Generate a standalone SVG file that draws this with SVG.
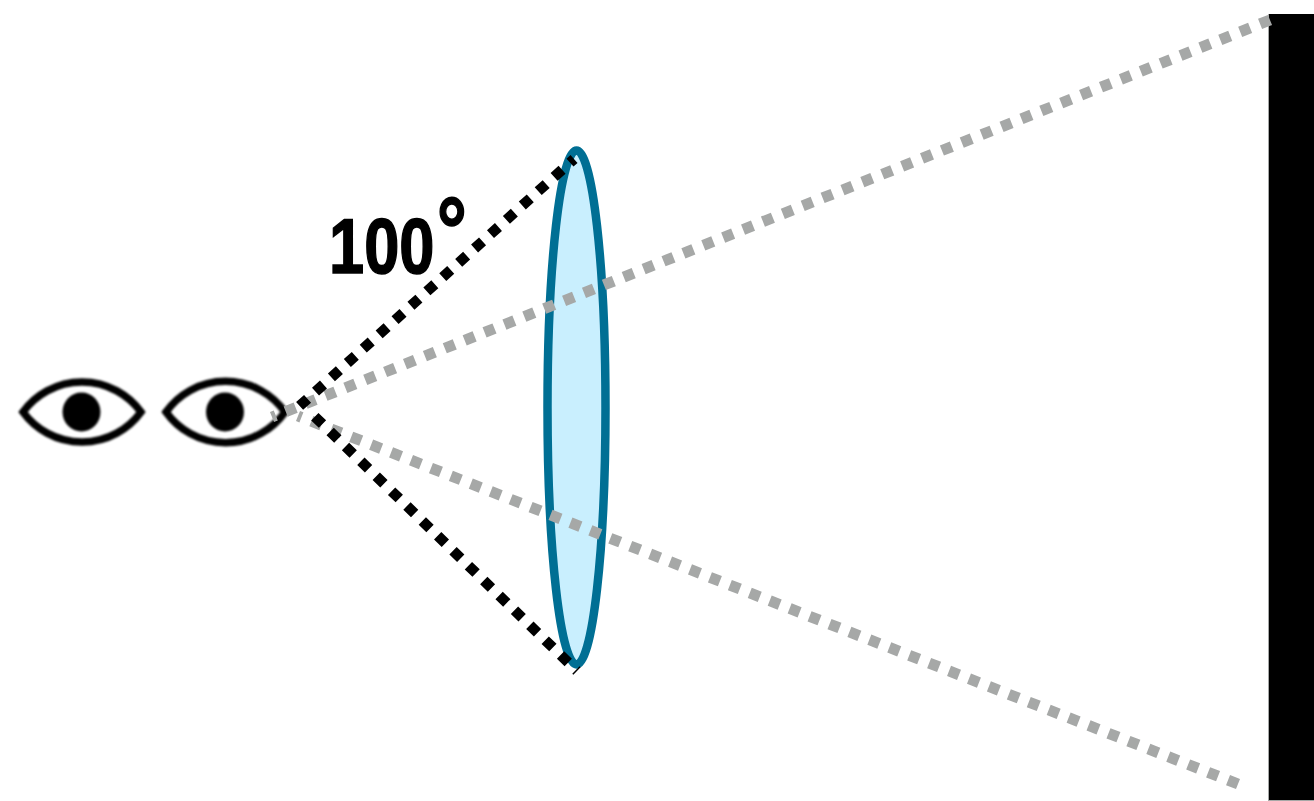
<svg xmlns="http://www.w3.org/2000/svg" width="1314" height="801" viewBox="0 0 1314 801">
<style>
.eye{fill:none;stroke:#000;stroke-width:7.5;stroke-linejoin:miter}
.grey{fill:none;stroke:#a6a8a7;stroke-width:11;stroke-dasharray:10.7 10.7}
.black{fill:none;stroke:#000;stroke-width:10.5;stroke-dasharray:10.7 10.7}
.label{font-family:"Liberation Sans",Arial,sans-serif;font-weight:700;stroke:#000;stroke-width:1.500}
</style>
<defs><filter id="soft" x="-30%" y="-30%" width="160%" height="160%"><feGaussianBlur stdDeviation="0.8"/></filter></defs>
<rect width="1314" height="801" fill="#fff"/>
<g id="screen"><rect x="1268" y="14" width="46" height="787" fill="#a6a8a7"/><rect x="1269" y="14" width="45" height="786" fill="#000"/></g>
<g id="lens"><ellipse cx="576.500" cy="407.500" rx="29" ry="257" fill="#c9effe" stroke="#006f94" stroke-width="8.500"/></g>
<g id="eye-left" filter="url(#soft)"><path class="eye" d="M23 412A73 73 0 0 1 141 412A73 73 0 0 1 23 412Z"/><ellipse cx="81.500" cy="412" rx="19" ry="19.500"/></g>
<g id="eye-right" filter="url(#soft)"><path class="eye" d="M166 412A73 73 0 0 1 285 412A73 73 0 0 1 166 412Z"/><ellipse cx="225" cy="412" rx="19" ry="19.500"/></g>
<g id="connectors">
<path class="grey" d="M1270 20L272 417"/>
<path class="grey" d="M1238 784L298 416"/>
<path class="black" d="M574 159L299 406.500" stroke-dashoffset="5.350"/>
<path class="black" d="M577 671L310 412" stroke-dashoffset="9.200"/>
</g>
<g id="label"><text class="label" transform="translate(329 273) scale(.81 1)" font-size="78">100<tspan dx="3" dy="-11.500" font-size="93">°</tspan></text></g>
</svg>
